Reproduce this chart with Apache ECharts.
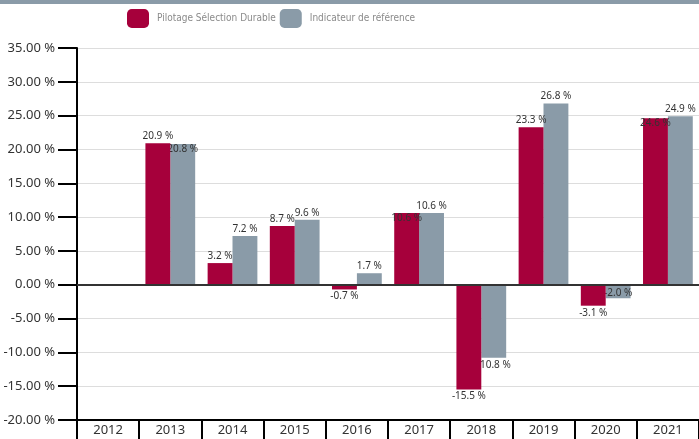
<!DOCTYPE html>
<html>
<head>
<meta charset="utf-8">
<script src="https://cdn.jsdelivr.net/npm/echarts@6/dist/echarts.min.js"></script>
<style>
	html, body { margin: 0; padding: 0; background: #fff; }
	#chart { width: 699px; height: 439px; }
</style>
</head>
<body>
<div id="chart"></div>
<script>
// ---------- DATA ----------
const years = ['2012', '2013', '2014', '2015', '2016', '2017', '2018', '2019', '2020', '2021'];
const pilotage = [null, 20.9, 3.2, 8.7, -0.7, 10.6, -15.5, 23.3, -3.1, 24.6];
const reference = [null, 20.8, 7.2, 9.6, 1.7, 10.6, -10.8, 26.8, -2.0, 24.9];
const seriesNames = ['Pilotage Sélection Durable', 'Indicateur de référence'];

const RED = '#a6003b';
const GREY = '#8a9ba8';
const NARROW = "'Liberation Sans Narrow', 'DejaVu Sans Condensed', 'Noto Sans', sans-serif";

function fmt(v) {
	return v.toFixed(1) + ' %';
}

// when both labels of a year would collide, push the smaller one inside its bar
function buildData(own, other, isFirst) {
	return own.map(function (v, i) {
		if (v === null) return null;
		let o = other[i];
		let collide = o !== null && Math.sign(o) === Math.sign(v) &&
			Math.abs(o - v) < 2 && Math.max(fmt(v).length, fmt(o).length) > 5;
		let inside = collide && (Math.abs(v) < Math.abs(o) || (Math.abs(v) === Math.abs(o) && isFirst));
		let pos;
		if (inside) pos = v >= 0 ? 'insideTop' : 'insideBottom';
		else pos = v >= 0 ? 'top' : 'bottom';
		return { value: v, label: { position: pos, distance: inside ? 0 : 2 } };
	});
}

var chart = echarts.init(document.getElementById('chart'));

let labelStyle = {
	show: true,
	color: '#333',
	fontSize: 10,
	fontFamily: 'Noto Sans',
	textBorderWidth: 0,
	textBorderColor: 'transparent',
	formatter: function (p) { return fmt(p.value); }
};

let options = {
	animation: false,
	textStyle: { fontFamily: 'Noto Sans' },
	graphic: [
		{
			type: 'rect',
			left: 0,
			top: 0,
			shape: { width: 699, height: 4 },
			style: { fill: GREY }
		}
	],
	legend: {
		top: 9,
		left: 127,
		padding: 0,
		itemWidth: 22,
		itemHeight: 19,
		itemGap: 4,
		icon: 'roundRect',
		textStyle: { color: '#8a8a8a', fontSize: 10, fontFamily: NARROW, padding: [0, 0, 0, 3] },
		data: seriesNames
	},
	grid: {
		left: 77,
		right: 0,
		top: 48,
		bottom: 19,
		containLabel: false
	},
	xAxis: {
		type: 'category',
		data: years,
		position: 'bottom',
		axisLine: { onZero: false, lineStyle: { color: '#000', width: 2 } },
		axisTick: { show: true, length: 19, lineStyle: { color: '#000', width: 2 } },
		axisLabel: { color: '#333', fontSize: 13, margin: 4 },
		splitLine: { show: false }
	},
	yAxis: {
		type: 'value',
		min: -20,
		max: 35,
		interval: 5,
		axisLine: { show: true, lineStyle: { color: '#000', width: 2 } },
		axisTick: { show: true, length: 19, lineStyle: { color: '#000', width: 2 } },
		axisLabel: {
			color: '#333',
			fontSize: 13,
			margin: 22,
			formatter: function (v) { return v.toFixed(2) + ' %'; }
		},
		splitLine: { lineStyle: { color: '#dddddd', width: 1 } }
	},
	series: [
		{
			name: seriesNames[0],
			type: 'bar',
			z: 3,
			barGap: '0%',
			barCategoryGap: '20%',
			itemStyle: { color: RED },
			label: labelStyle,
			data: buildData(pilotage, reference, true),
			markLine: {
				silent: true,
				symbol: 'none',
				label: { show: false },
				lineStyle: { color: '#333', width: 2, type: 'solid' },
				data: [{ yAxis: 0 }]
			}
		},
		{
			name: seriesNames[1],
			type: 'bar',
			itemStyle: { color: GREY },
			label: labelStyle,
			data: buildData(reference, pilotage, false)
		}
	]
};

chart.setOption(options);
</script>
</body>
</html>
